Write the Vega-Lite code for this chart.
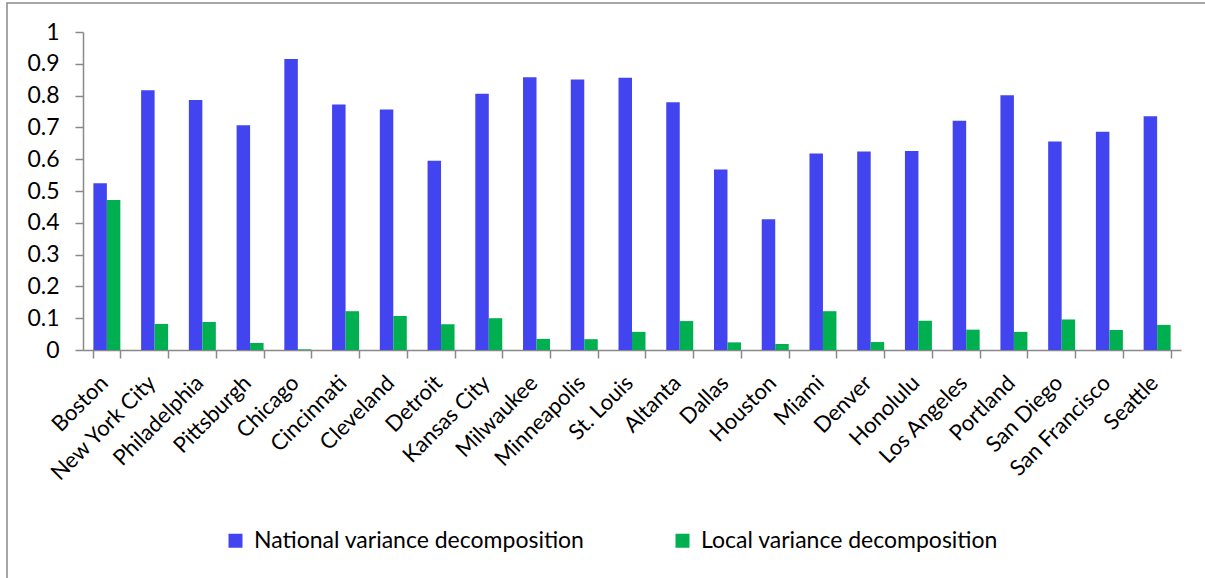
{
  "$schema": "https://vega.github.io/schema/vega-lite/v6.json",
  "width": 1205,
  "height": 582,
  "padding": {"left": 7, "top": 3, "right": -7, "bottom": -7},
  "autosize": {"type": "none"},
  "background": "white",
  "config": {
    "view": {"stroke": "#898989", "strokeWidth": 1.5},
    "font": "Lato",
    "axis": {"labelFont": "Lato", "labelColor": "#000000", "domainColor": "#898989", "tickColor": "#898989", "domainWidth": 1.5, "tickWidth": 1.5, "grid": false, "title": null}
  },
  "data": {"values": [
    {"city": "Boston", "series": "National variance decomposition", "value": 0.524},
    {"city": "Boston", "series": "Local variance decomposition", "value": 0.472},
    {"city": "New York City", "series": "National variance decomposition", "value": 0.817},
    {"city": "New York City", "series": "Local variance decomposition", "value": 0.082},
    {"city": "Philadelphia", "series": "National variance decomposition", "value": 0.786},
    {"city": "Philadelphia", "series": "Local variance decomposition", "value": 0.088},
    {"city": "Pittsburgh", "series": "National variance decomposition", "value": 0.707},
    {"city": "Pittsburgh", "series": "Local variance decomposition", "value": 0.022},
    {"city": "Chicago", "series": "National variance decomposition", "value": 0.915},
    {"city": "Chicago", "series": "Local variance decomposition", "value": 0.002},
    {"city": "Cincinnati", "series": "National variance decomposition", "value": 0.772},
    {"city": "Cincinnati", "series": "Local variance decomposition", "value": 0.122},
    {"city": "Cleveland", "series": "National variance decomposition", "value": 0.756},
    {"city": "Cleveland", "series": "Local variance decomposition", "value": 0.107},
    {"city": "Detroit", "series": "National variance decomposition", "value": 0.595},
    {"city": "Detroit", "series": "Local variance decomposition", "value": 0.081},
    {"city": "Kansas City", "series": "National variance decomposition", "value": 0.806},
    {"city": "Kansas City", "series": "Local variance decomposition", "value": 0.1},
    {"city": "Milwaukee", "series": "National variance decomposition", "value": 0.858},
    {"city": "Milwaukee", "series": "Local variance decomposition", "value": 0.035},
    {"city": "Minneapolis", "series": "National variance decomposition", "value": 0.851},
    {"city": "Minneapolis", "series": "Local variance decomposition", "value": 0.034},
    {"city": "St. Louis", "series": "National variance decomposition", "value": 0.856},
    {"city": "St. Louis", "series": "Local variance decomposition", "value": 0.057},
    {"city": "Altanta", "series": "National variance decomposition", "value": 0.779},
    {"city": "Altanta", "series": "Local variance decomposition", "value": 0.091},
    {"city": "Dallas", "series": "National variance decomposition", "value": 0.568},
    {"city": "Dallas", "series": "Local variance decomposition", "value": 0.024},
    {"city": "Houston", "series": "National variance decomposition", "value": 0.411},
    {"city": "Houston", "series": "Local variance decomposition", "value": 0.019},
    {"city": "Miami", "series": "National variance decomposition", "value": 0.618},
    {"city": "Miami", "series": "Local variance decomposition", "value": 0.122},
    {"city": "Denver", "series": "National variance decomposition", "value": 0.624},
    {"city": "Denver", "series": "Local variance decomposition", "value": 0.025},
    {"city": "Honolulu", "series": "National variance decomposition", "value": 0.626},
    {"city": "Honolulu", "series": "Local variance decomposition", "value": 0.092},
    {"city": "Los Angeles", "series": "National variance decomposition", "value": 0.721},
    {"city": "Los Angeles", "series": "Local variance decomposition", "value": 0.064},
    {"city": "Portland", "series": "National variance decomposition", "value": 0.801},
    {"city": "Portland", "series": "Local variance decomposition", "value": 0.057},
    {"city": "San Diego", "series": "National variance decomposition", "value": 0.656},
    {"city": "San Diego", "series": "Local variance decomposition", "value": 0.096},
    {"city": "San Francisco", "series": "National variance decomposition", "value": 0.686},
    {"city": "San Francisco", "series": "Local variance decomposition", "value": 0.063},
    {"city": "Seattle", "series": "National variance decomposition", "value": 0.735},
    {"city": "Seattle", "series": "Local variance decomposition", "value": 0.079}
  ]},
  "mark": {"type": "bar"},
  "encoding": {
    "x": {
      "field": "city", "type": "nominal", "sort": null,
      "scale": {"range": [76, 1174], "paddingInner": 0.435, "paddingOuter": 0.2175},
      "axis": {"orient": "bottom", "offset": -235, "labelAngle": -45, "labelAlign": "right", "labelBaseline": "middle", "labelFontSize": 22, "labelPadding": 21, "labelOffset": -3, "tickSize": 8, "tickBand": "extent"}
    },
    "xOffset": {
      "field": "series", "type": "nominal",
      "sort": ["National variance decomposition", "Local variance decomposition"],
      "scale": {"paddingInner": 0, "paddingOuter": 0}
    },
    "y": {
      "field": "value", "type": "quantitative",
      "scale": {"domain": [0, 1], "range": [347, 29], "nice": false, "zero": true},
      "axis": {"orient": "left", "offset": -76, "values": [0, 0.1, 0.2, 0.3, 0.4, 0.5, 0.6, 0.7, 0.8, 0.9, 1], "format": "~g", "labelFontSize": 23, "labelPadding": 16, "tickSize": 8}
    },
    "color": {
      "field": "series", "type": "nominal",
      "sort": ["National variance decomposition", "Local variance decomposition"],
      "scale": {"domain": ["National variance decomposition", "Local variance decomposition"], "range": ["#4144EF", "#00AF50"]},
      "legend": {"orient": "none", "legendX": 217, "legendY": 526, "direction": "horizontal", "title": null, "symbolType": "square", "symbolSize": 196, "symbolStrokeWidth": 0, "labelFontSize": 23, "labelFont": "Lato", "labelColor": "#000000", "labelOffset": 7, "columnPadding": 86, "labelLimit": 600}
    }
  }
}
